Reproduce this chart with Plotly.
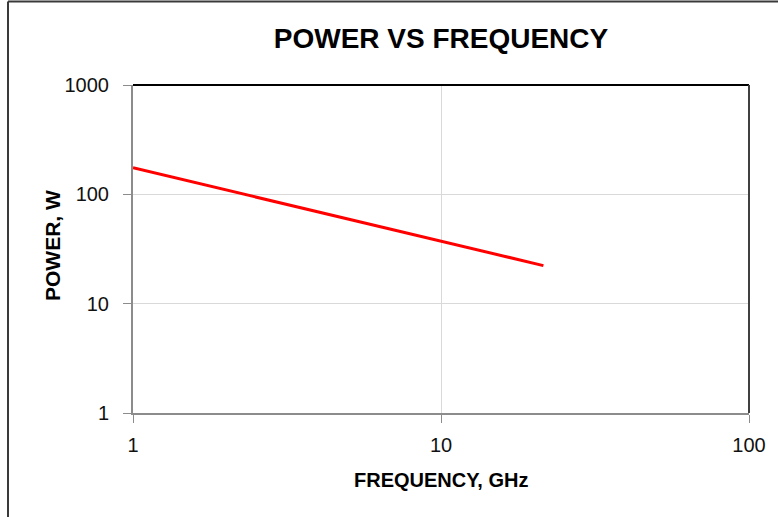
import plotly.graph_objects as go

# Data
frequency_ghz = [1, 10, 21.5]
power_w = [175, 37, 22.3]

x_tickvals = [1, 10, 100]
x_ticktext = ["1", "10", "100"]
y_tickvals = [1, 10, 100, 1000]
y_ticktext = ["1", "10", "100", "1000"]

FONT = "Liberation Sans, Arial, sans-serif"

W, H = 778, 517
L, R, T, B = 133, 29, 85, 104
pw, ph = W - L - R, H - T - B

def px_to_paper_x(px):
    return (px - L) / pw

def px_to_paper_y(py):
    return (H - B - py) / ph

fig = go.Figure()
fig.add_trace(go.Scatter(
    x=frequency_ghz, y=power_w, mode="lines",
    line=dict(color="#ff0000", width=3),
    showlegend=False, hoverinfo="x+y",
))

axis_common = dict(
    type="log",
    showgrid=True, gridcolor="#d9d9d9", gridwidth=1,
    showline=True, linecolor="#8c8c8c", linewidth=2,
    ticks="outside", ticklen=8, tickcolor="#8c8c8c", tickwidth=1,
    tickfont=dict(family=FONT, size=20, color="#111111"),
    zeroline=False,
)

fig.update_layout(
    width=W, height=H,
    margin=dict(l=L, r=R, t=T, b=B),
    paper_bgcolor="white", plot_bgcolor="white",
    title=dict(
        text="<b>POWER VS FREQUENCY</b>",
        font=dict(family=FONT, size=28, color="#000000"),
        x=0.5, xref="paper", xanchor="center",
        y=1 - 38 / H, yref="container", yanchor="middle",
    ),
    xaxis=dict(
        axis_common,
        range=[0, 2],
        tickvals=x_tickvals, ticktext=x_ticktext,
        ticklabelstandoff=5,
    ),
    yaxis=dict(
        axis_common,
        range=[0, 3],
        tickvals=y_tickvals, ticktext=y_ticktext,
        ticklabelstandoff=10,
    ),
)

# Axis titles
fig.add_annotation(text="<b>FREQUENCY, GHz</b>", xref="paper", yref="paper",
                   x=px_to_paper_x(441), y=px_to_paper_y(480),
                   xanchor="center", yanchor="middle", showarrow=False,
                   font=dict(family=FONT, size=20, color="#000000"))
fig.add_annotation(text="<b>POWER, W</b>", xref="paper", yref="paper",
                   x=px_to_paper_x(52), y=px_to_paper_y(246), textangle=-90,
                   xanchor="center", yanchor="middle", showarrow=False,
                   font=dict(family=FONT, size=21, color="#000000"))

# Plot-area frame: black top, dark grey right
fig.add_shape(type="line", xref="paper", yref="paper", x0=0, x1=1, y0=1, y1=1,
              line=dict(color="#000000", width=2), layer="above")
fig.add_shape(type="line", xref="paper", yref="paper", x0=1, x1=1, y0=0, y1=1,
              line=dict(color="#404040", width=2), layer="above")

# Outer chart border (left and top)
bx = px_to_paper_x(8)
by_top = px_to_paper_y(1.5)
by_bot = px_to_paper_y(H + 5)
fig.add_shape(type="line", xref="paper", yref="paper", x0=bx, x1=bx, y0=by_bot, y1=by_top,
              line=dict(color="#3a3a3a", width=2), layer="above")
fig.add_shape(type="line", xref="paper", yref="paper", x0=bx, x1=px_to_paper_x(W + 5), y0=by_top, y1=by_top,
              line=dict(color="#3a3a3a", width=2), layer="above")

# Remove the default 8px page margin so the figure sits at the window origin
fig.write_html("out.html", config={"displayModeBar": False},
               post_script="document.body.style.margin='0';")
